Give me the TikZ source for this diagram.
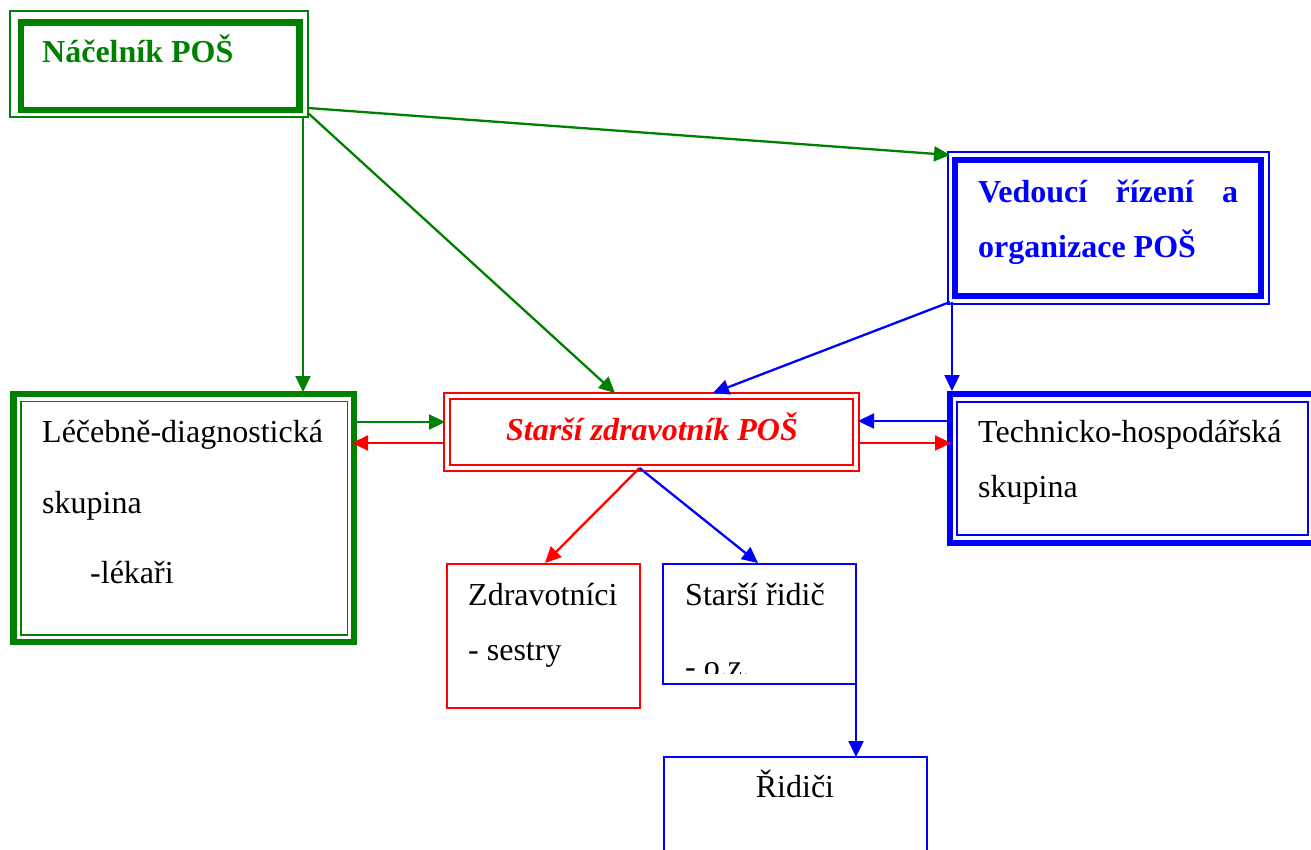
\documentclass[tikz,border=0pt]{standalone}
\usepackage{fontspec}
\setmainfont{Liberation Serif}
\usetikzlibrary{arrows.meta,calc,fit}
\definecolor{dgreen}{RGB}{0,128,0}
\definecolor{pblue}{RGB}{0,0,255}
\definecolor{pred}{RGB}{255,0,0}
\begin{document}
\begin{tikzpicture}[x=1pt,y=-1pt,
  box/.style={rectangle,inner sep=0pt,outer sep=0pt,draw},
  thin/.style={line width=1.8pt},
  thick/.style={line width=6.2pt},
  txt/.style={inner sep=0pt,anchor=base west,font=\fontsize{32}{38}\selectfont},
  conn/.style={line width=2.3pt,-{Triangle[length=16pt,width=15pt]}},
]
\useasboundingbox (0,0) rectangle (1311,849);
\clip (0,0) rectangle (1311,849);

% Náčelník POŠ
\node[box,thin,draw=dgreen,fit={(10,11) (308,117)}] (nacout) {};
\node[box,thick,draw=dgreen,fit={(21,22.5) (299.5,110)}] (nacin) {};
\node[txt,text=dgreen,font=\fontsize{32}{38}\selectfont\bfseries] (tnac) at (42,62) {Náčelník POŠ};

% Vedoucí řízení a organizace POŠ
\node[box,thin,draw=pblue,fit={(948,152) (1269,304)}] (vedout) {};
\node[box,thick,draw=pblue,fit={(955,160) (1261,296)}] (vedin) {};
\node[txt,text=pblue,font=\fontsize{32}{38}\selectfont\bfseries] (tved1) at (978,202) {\makebox[260pt][s]{Vedoucí\hfill řízení\hfill a}};
\node[txt,text=pblue,font=\fontsize{32}{38}\selectfont\bfseries] (tved2) at (978,257) {organizace POŠ};

% Léčebně-diagnostická skupina
\node[box,thick,draw=dgreen,fit={(13.5,394) (354,642)}] (lecout) {};
\node[box,thin,draw=dgreen,fit={(21,401.5) (347.5,635)}] (lecin) {};
\node[txt] (tlec1) at (42,442) {Léčebně-diagnostická};
\node[txt] (tlec2) at (42,513) {skupina};
\node[txt] (tlec3) at (90,583) {-lékaři};

% Starší zdravotník POŠ
\node[box,line width=2.2pt,draw=pred,fit={(444,393) (859,471)}] (starout) {};
\node[box,line width=2.2pt,draw=pred,fit={(450,399) (853,465)}] (starin) {};
\node[inner sep=0pt,anchor=base,text=pred,font=\fontsize{32}{38}\selectfont\bfseries\itshape] (tstar) at (652,440) {Starší zdravotník POŠ};

% Technicko-hospodářská skupina
\node[box,thick,draw=pblue,fit={(950,394) (1325,543)}] (techout) {};
\node[box,thin,draw=pblue,fit={(957,402) (1308,535)}] (techin) {};
\node[txt] (ttech1) at (978,442) {Technicko-hospodářská};
\node[txt] (ttech2) at (978,497) {skupina};

% Zdravotníci
\node[box,line width=2.2pt,draw=pred,fit={(447,564) (640,708)}] (zdr) {};
\node[txt] (tzdr1) at (468,605) {Zdravotníci};
\node[txt] (tzdr2) at (468,660) {- sestry};

% Starší řidič
\node[box,line width=2.2pt,draw=pblue,fit={(663,564) (856,684)}] (srid) {};
\node[txt] (tsrid1) at (685,605) {Starší řidič};
\begin{scope}
\clip (663,564) rectangle (856,673);
\node[txt] (tsrid2) at (685,677) {- o.z.};
\end{scope}

% Řidiči
\node[box,line width=2.2pt,draw=pblue,fit={(664,757) (927,880)}] (rid) {};
\node[inner sep=0pt,anchor=base,font=\fontsize{32}{38}\selectfont] (trid) at (795,797) {Řidiči};

% green connectors
\draw[conn,dgreen] ($(nacout.south east)+(-5,0)$) -- ($(lecout.north west)+(289.5,-2)$);
\draw[conn,dgreen] ($(nacout.south east)+(0,-4)$) -- ($(starout.north west)+(171,0)$);
\draw[conn,dgreen] ($(nacout.south east)+(0,-9)$) -- ($(vedout.north west)+(2,3)$);
\draw[conn,dgreen] ($(lecout.north east)+(3,28)$) -- ($(starout.north west)+(1,29)$);

% red connectors
\draw[conn,pred] ($(starout.north west)+(0,50)$) -- ($(lecout.north east)+(-2,49)$);
\draw[conn,pred] ($(starout.north east)+(0,50)$) -- ($(techout.north west)+(1,49)$);
\draw[conn,pred] ($(starout.south)+(-12,-3)$) -- ($(zdr.north west)+(98,-1)$);

% blue connectors
\draw[conn,pblue] ($(vedout.south west)+(2,-2)$) -- ($(starout.north west)+(269,0)$);
\draw[conn,pblue] ($(vedout.south west)+(4,-2)$) -- ($(techout.north west)+(2,-3)$);
\draw[conn,pblue] ($(techout.north west)+(-3,27)$) -- ($(starout.north east)+(-1,28)$);
\draw[conn,pblue] ($(starout.south)+(-12,-3)$) -- ($(srid.north west)+(95,-1)$);
\draw[conn,pblue] (srid.south east) -- ($(rid.north west)+(192,0)$);
\end{tikzpicture}
\end{document}
